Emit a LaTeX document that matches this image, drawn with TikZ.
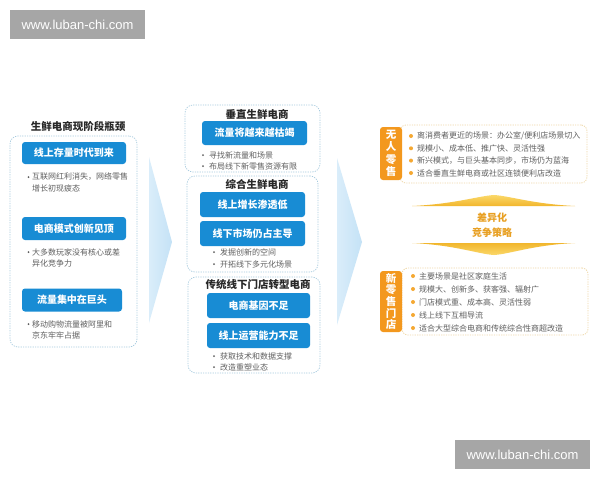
\documentclass[tikz,border=0pt]{standalone}
\usepackage{fontspec}
\setmainfont{Noto Sans CJK SC}
\newfontfamily\urlfont{Liberation Sans}
\definecolor{bluebox}{RGB}{24,140,212}
\definecolor{dashblue}{RGB}{165,202,222}
\definecolor{tagorange}{RGB}{243,152,30}
\definecolor{dotorange}{RGB}{245,168,50}
\definecolor{dashorange}{RGB}{238,215,165}
\definecolor{graytext}{RGB}{95,95,95}
\definecolor{strat}{RGB}{232,160,35}
\definecolor{wmgray}{RGB}{166,166,166}
\definecolor{titletext}{RGB}{40,40,40}
\definecolor{arrowA}{RGB}{218,237,250}
\definecolor{arrowB}{RGB}{196,226,246}
\definecolor{goldA}{RGB}{251,216,105}
\definecolor{goldB}{RGB}{241,182,45}
\begin{document}
\begin{tikzpicture}[x=1pt,y=-1pt,
  wm/.style={fill=wmgray, text=white, font=\urlfont\fontsize{13}{15}\selectfont, inner sep=0pt, minimum width=135pt, minimum height=29pt},
  bbox/.style={fill=bluebox, rounded corners=3pt, text=white, font=\bfseries\fontsize{10}{12}\selectfont, inner sep=0pt},
  dashbox/.style={draw=dashblue, dash pattern=on 1.2pt off 1.2pt, rounded corners=8pt, line width=0.7pt, inner sep=0pt},
  obox/.style={draw=dashorange, dash pattern=on 1.2pt off 1.2pt, rounded corners=6pt, line width=0.8pt, inner sep=0pt},
  ttl/.style={font=\bfseries\fontsize{10.5}{12}\selectfont, text=titletext, inner sep=0pt},
  bul/.style={font=\fontsize{8}{10}\selectfont, text=graytext, anchor=west, inner sep=0pt},
  gdot/.style={circle, fill=graytext, inner sep=0pt, minimum size=2pt},
  odot/.style={circle, fill=dotorange, inner sep=0pt, minimum size=4pt},
  tag/.style={fill=tagorange, rounded corners=3pt, text=white, inner sep=0pt, minimum width=22pt, align=center},
  strattext/.style={font=\bfseries\fontsize{10}{12}\selectfont, text=strat, inner sep=0pt}
]
\useasboundingbox (0,0) rectangle (600,480);
\fill[white] (0,0) rectangle (600,480);

% url labels
\node[wm] (wm1) at (77.5,24.5) {www.luban-chi.com};
\node[wm] (wm2) at (522.5,454.5) {www.luban-chi.com};

% big light-blue arrows
\shade[left color=arrowA, right color=arrowB] (149,157) -- (172,242) -- (149,323) -- cycle;
\shade[left color=arrowA, right color=arrowB] (337,158) -- (362,242) -- (337,325) -- cycle;

% ---------- left column ----------
\node[dashbox, minimum width=127pt, minimum height=211pt] (lbox) at (73.5,241.5) {};
\node[ttl] (ltitle) at (78,126) {生鲜电商现阶段瓶颈};
\node[bbox, minimum width=104pt, minimum height=22pt] (lb1) at (74,153) {线上存量时代到来};
\node[gdot] (ld1) at (28.5,177) {};
\node[bul] (lt1a) at (32,177) {互联网红利消失，网络零售};
\node[bul] (lt1b) at (32,188) {增长初现疲态};
\node[bbox, minimum width=104pt, minimum height=23pt] (lb2) at (74,228.5) {电商模式创新见顶};
\node[gdot] (ld2) at (28.5,252) {};
\node[bul] (lt2a) at (32,252) {大多数玩家没有核心或差};
\node[bul] (lt2b) at (32,263) {异化竞争力};
\node[bbox, minimum width=100pt, minimum height=23pt] (lb3) at (72,300) {流量集中在巨头};
\node[gdot] (ld3) at (28.5,324) {};
\node[bul] (lt3a) at (32,324) {移动购物流量被阿里和};
\node[bul] (lt3b) at (32,335) {京东牢牢占据};

% ---------- middle column ----------
\node[dashbox, minimum width=135pt, minimum height=67pt] (m1) at (252.5,138.5) {};
\node[ttl] (m1t) at (257,114) {垂直生鲜电商};
\node[bbox, minimum width=105pt, minimum height=24pt] (m1b) at (254.5,133) {流量将越来越枯竭};
\node[gdot] (m1d1) at (203,155) {};
\node[bul] (m1l1) at (209,155) {寻找新流量和场景};
\node[gdot] (m1d2) at (203,166) {};
\node[bul] (m1l2) at (209,166) {布局线下新零售资源有限};

\node[dashbox, minimum width=131pt, minimum height=96pt] (m2) at (252.5,224) {};
\node[ttl] (m2t) at (257,184) {综合生鲜电商};
\node[bbox, minimum width=105pt, minimum height=25pt] (m2a) at (252.5,204.5) {线上增长渗透低};
\node[bbox, minimum width=105pt, minimum height=25pt] (m2b) at (252.5,233.5) {线下市场仍占主导};
\node[gdot] (m2d1) at (214,252) {};
\node[bul] (m2l1) at (220,252) {发掘创新的空间};
\node[gdot] (m2d2) at (214,264) {};
\node[bul] (m2l2) at (220,264) {开拓线下多元化场景};

\node[dashbox, minimum width=132pt, minimum height=96pt] (m3) at (254,325) {};
\node[ttl] (m3t) at (258,284) {传统线下门店转型电商};
\node[bbox, minimum width=103pt, minimum height=25pt] (m3a) at (258.5,305.5) {电商基因不足};
\node[bbox, minimum width=103pt, minimum height=25pt] (m3b) at (258.5,335.5) {线上运营能力不足};
\node[gdot] (m3d1) at (214,356) {};
\node[bul] (m3l1) at (220,356) {获取技术和数据支撑};
\node[gdot] (m3d2) at (214,367) {};
\node[bul] (m3l2) at (220,367) {改造重塑业态};

% ---------- right column ----------
\node[obox, minimum width=187pt, minimum height=58pt] (r1) at (493.5,154) {};
\node[tag, minimum height=53pt, font=\bfseries\fontsize{10.5}{12.5}\selectfont] (tag1) at (391,153.5) {无\\人\\零\\售};
\node[odot] (r1d1) at (411,136) {};
\node[bul] (r1l1) at (417,136) {离消费者更近的场景：办公室/便利店场景切入};
\node[odot] (r1d2) at (411,148.3) {};
\node[bul] (r1l2) at (417,148.3) {规模小、成本低、推广快、灵活性强};
\node[odot] (r1d3) at (411,160.6) {};
\node[bul] (r1l3) at (417,160.6) {新兴模式，与巨头基本同步，市场仍为蓝海};
\node[odot] (r1d4) at (411,173) {};
\node[bul] (r1l4) at (417,173) {适合垂直生鲜电商或社区连锁便利店改造};

\shade[top color=goldA, bottom color=goldB] (412,206) .. controls (455,204) and (478,196) .. (494,195) .. controls (510,196) and (533,204) .. (575,206) -- cycle;
\node[strattext] (s1) at (492,218) {差异化};
\node[strattext] (s2) at (492,233) {竞争策略};
\shade[top color=goldB, bottom color=goldA] (412,243) .. controls (455,245) and (478,254) .. (494,255) .. controls (510,254) and (533,245) .. (575,243) -- cycle;

\node[obox, minimum width=186pt, minimum height=67pt] (r2) at (495,301.5) {};
\node[tag, minimum height=61pt, font=\bfseries\fontsize{10.5}{11.6}\selectfont] (tag2) at (391,301.5) {新\\零\\售\\门\\店};
\node[odot] (r2d1) at (413,276) {};
\node[bul] (r2l1) at (419,276) {主要场景是社区家庭生活};
\node[odot] (r2d2) at (413,289) {};
\node[bul] (r2l2) at (419,289) {规模大、创新多、获客强、辐射广};
\node[odot] (r2d3) at (413,302) {};
\node[bul] (r2l3) at (419,302) {门店模式重、成本高、灵活性弱};
\node[odot] (r2d4) at (413,315) {};
\node[bul] (r2l4) at (419,315) {线上线下互相导流};
\node[odot] (r2d5) at (413,328) {};
\node[bul] (r2l5) at (419,328) {适合大型综合电商和传统综合性商超改造};
\end{tikzpicture}
\end{document}
